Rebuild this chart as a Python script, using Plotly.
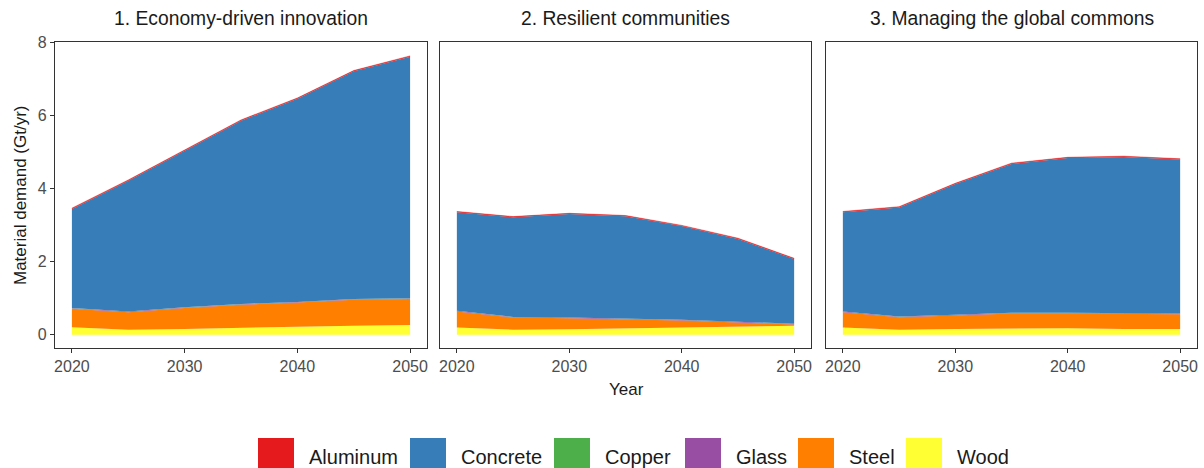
import plotly.graph_objects as go

years = [2020, 2025, 2030, 2035, 2040, 2045, 2050]
materials = ["Aluminum", "Concrete", "Copper", "Glass", "Steel", "Wood"]
colors = {"Aluminum": "#E41A1C", "Concrete": "#377EB8", "Copper": "#4DAF4A",
          "Glass": "#984EA3", "Steel": "#FF7F00", "Wood": "#FFFF33"}
panel_titles = ["1. Economy-driven innovation", "2. Resilient communities",
                "3. Managing the global commons"]

# Panel 1: Economy-driven innovation (Gt/yr)
p1_wood = [0.21, 0.14, 0.16, 0.20, 0.22, 0.25, 0.27]
p1_steel = [0.50, 0.48, 0.57, 0.62, 0.66, 0.71, 0.71]
p1_glass = [0.015, 0.015, 0.015, 0.015, 0.015, 0.015, 0.015]
p1_copper = [0.005, 0.005, 0.005, 0.005, 0.005, 0.005, 0.005]
p1_concrete = [2.71, 3.57, 4.28, 5.01, 5.55, 6.22, 6.60]
p1_aluminum = [0.02, 0.02, 0.02, 0.02, 0.02, 0.02, 0.02]

# Panel 2: Resilient communities
p2_wood = [0.20, 0.14, 0.155, 0.18, 0.22, 0.23, 0.25]
p2_steel = [0.44, 0.33, 0.30, 0.25, 0.17, 0.11, 0.03]
p2_glass = [0.015, 0.015, 0.015, 0.015, 0.015, 0.015, 0.015]
p2_copper = [0.005, 0.005, 0.005, 0.005, 0.005, 0.005, 0.005]
p2_concrete = [2.69, 2.72, 2.825, 2.79, 2.56, 2.26, 1.77]
p2_aluminum = [0.02, 0.02, 0.02, 0.02, 0.02, 0.02, 0.02]

# Panel 3: Managing the global commons
p3_wood = [0.20, 0.14, 0.16, 0.18, 0.18, 0.16, 0.16]
p3_steel = [0.42, 0.34, 0.37, 0.40, 0.40, 0.42, 0.405]
p3_glass = [0.015, 0.015, 0.015, 0.015, 0.015, 0.015, 0.015]
p3_copper = [0.005, 0.005, 0.005, 0.005, 0.005, 0.005, 0.005]
p3_concrete = [2.71, 2.98, 3.57, 4.07, 4.23, 4.26, 4.205]
p3_aluminum = [0.02, 0.02, 0.02, 0.02, 0.02, 0.02, 0.02]

panels = [
    {"Wood": p1_wood, "Steel": p1_steel, "Glass": p1_glass, "Copper": p1_copper,
     "Concrete": p1_concrete, "Aluminum": p1_aluminum},
    {"Wood": p2_wood, "Steel": p2_steel, "Glass": p2_glass, "Copper": p2_copper,
     "Concrete": p2_concrete, "Aluminum": p2_aluminum},
    {"Wood": p3_wood, "Steel": p3_steel, "Glass": p3_glass, "Copper": p3_copper,
     "Concrete": p3_concrete, "Aluminum": p3_aluminum},
]
stack_order = ["Wood", "Steel", "Glass", "Copper", "Concrete", "Aluminum"]

W, H = 1204, 468
FONT = "Liberation Sans, Arial, sans-serif"
x_dom = [(55, 427), (440, 811), (826, 1197)]
y_top, y_bot = 42, 348

fig = go.Figure()
for i, data in enumerate(panels):
    xa = "x" if i == 0 else f"x{i+1}"
    ya = "y" if i == 0 else f"y{i+1}"
    for m in stack_order:
        fig.add_trace(go.Scatter(
            x=years, y=data[m], xaxis=xa, yaxis=ya, stackgroup=f"s{i}",
            mode="lines", line=dict(width=0.5 if m == "Aluminum" else 0, color=colors[m]),
            fillcolor=colors[m], name=m, showlegend=False, hoverinfo="x+y+name"))

layout = dict(
    width=W, height=H, margin=dict(l=0, r=0, t=0, b=0),
    paper_bgcolor="white", plot_bgcolor="white",
    font=dict(family=FONT, color="#4d4d4d", size=16),
    showlegend=False,
)
for i in range(3):
    sx = "" if i == 0 else str(i + 1)
    layout[f"xaxis{sx}"] = dict(
        domain=[x_dom[i][0] / W, x_dom[i][1] / W], anchor=f"y{sx}",
        range=[2018.5, 2051.5], tickvals=[2020, 2030, 2040, 2050],
        showline=True, mirror=True, linecolor="#333333", linewidth=1.3,
        ticks="outside", ticklen=4, tickcolor="#333333", tickwidth=1.1,
        showgrid=False, zeroline=False, automargin=False,
        tickfont=dict(size=16, color="#4d4d4d", family=FONT))
    layout[f"yaxis{sx}"] = dict(
        domain=[1 - y_bot / H, 1 - y_top / H], anchor=f"x{sx}",
        range=[-0.36, 8.0], tickvals=[0, 2, 4, 6, 8],
        showline=True, mirror=True, linecolor="#333333", linewidth=1.3,
        ticks="outside" if i == 0 else "", ticklen=4, tickcolor="#333333", tickwidth=1.1,
        showticklabels=(i == 0), showgrid=False, zeroline=False, automargin=False,
        tickfont=dict(size=16, color="#4d4d4d", family=FONT))
fig.update_layout(**layout)

annotations = []
for i, t in enumerate(panel_titles):
    cx = (x_dom[i][0] + x_dom[i][1]) / 2 / W
    annotations.append(dict(text=t, x=cx, y=1 - 19 / H, xref="paper", yref="paper",
                            showarrow=False, xanchor="center", yanchor="middle",
                            font=dict(size=19.3, color="#1a1a1a", family=FONT)))
annotations.append(dict(text="Material demand (Gt/yr)", x=20 / W, y=1 - 195 / H,
                        xref="paper", yref="paper", showarrow=False, textangle=-90,
                        xanchor="center", yanchor="middle",
                        font=dict(size=17, color="#1a1a1a", family=FONT)))
annotations.append(dict(text="Year", x=626 / W, y=1 - 389 / H, xref="paper", yref="paper",
                        showarrow=False, xanchor="center", yanchor="middle",
                        font=dict(size=17, color="#1a1a1a", family=FONT)))

# Legend (keys drawn as shapes, labels as text)
legend_keys_x = [258, 410, 554, 685, 798, 906]
shapes = []
for m, kx in zip(materials, legend_keys_x):
    shapes.append(dict(type="rect", xref="paper", yref="paper",
                       x0=kx / W, x1=(kx + 36) / W, y0=1 - 474 / H, y1=1 - 438 / H,
                       fillcolor=colors[m], line=dict(width=0)))
    annotations.append(dict(text=m, x=(kx + 49) / W, y=1 - 457 / H, xref="paper", yref="paper",
                            showarrow=False, xanchor="left", yanchor="middle",
                            font=dict(size=20, color="#1a1a1a", family=FONT)))
fig.update_layout(annotations=annotations, shapes=shapes)

fig.write_html("out.html", config={"displayModeBar": False},
               post_script="document.body.style.margin='0px';document.body.style.overflow='hidden';")
